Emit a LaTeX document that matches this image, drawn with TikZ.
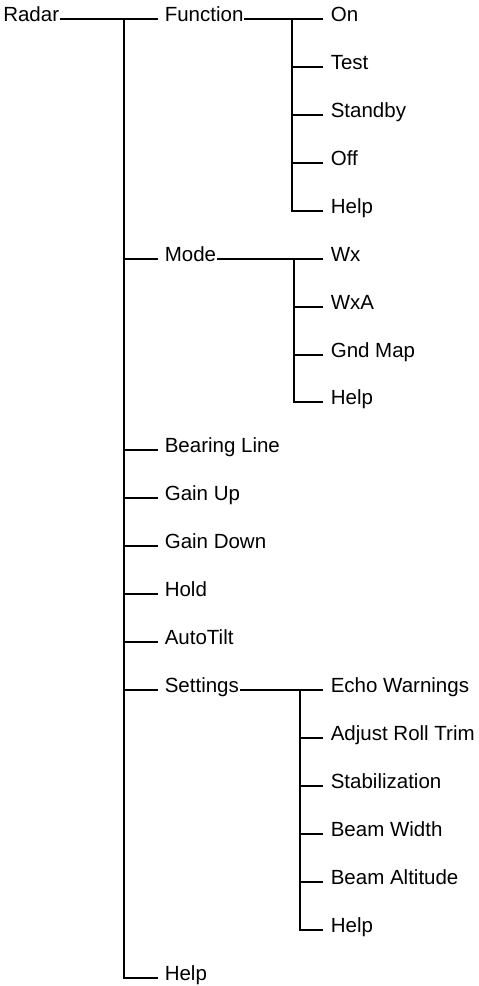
\documentclass[tikz,border=0pt]{standalone}
\usepackage{fontspec}
\setmainfont{Liberation Sans}
\begin{document}
\begin{tikzpicture}[x=1pt,y=-1pt,line width=1.6pt,
  lbl/.style={anchor=base west,inner sep=0pt,font=\fontsize{20.5}{24}\selectfont},
  stub/.style={shorten >=6pt},
  sstub/.style={shorten >=7pt}]
\useasboundingbox (0,0) rectangle (479,986);
% main trunk points
\coordinate (t1) at (124,19);
\coordinate (t6) at (124,259);
\coordinate (t10) at (124,450);
\coordinate (t11) at (124,498);
\coordinate (t12) at (124,546);
\coordinate (t13) at (124,594);
\coordinate (t14) at (124,642);
\coordinate (t15) at (124,690);
\coordinate (t21) at (124,978);
% function sub trunk
\coordinate (f1) at (292,19);
\coordinate (f2) at (292,67);
\coordinate (f3) at (292,115);
\coordinate (f4) at (292,163);
\coordinate (f5) at (292,211);
% mode sub trunk
\coordinate (m6) at (294,259);
\coordinate (m7) at (294,307);
\coordinate (m8) at (294,355);
\coordinate (m9) at (294,402);
% settings sub trunk
\coordinate (s15) at (300,690);
\coordinate (s16) at (300,738);
\coordinate (s17) at (300,786);
\coordinate (s18) at (300,834);
\coordinate (s19) at (300,882);
\coordinate (s20) at (300,930);
% labels
\node[lbl] (radar) at (2.5,21) {Radar};
\node[lbl] (fn) at (164,21) {Function};
\node[lbl] (on) at (330,21) {On};
\node[lbl] (test) at (330,69) {Test};
\node[lbl] (standby) at (330,117) {Standby};
\node[lbl] (off) at (330,165) {Off};
\node[lbl] (fhelp) at (330,213) {Help};
\node[lbl] (mode) at (164,261) {Mode};
\node[lbl] (wx) at (330,261) {Wx};
\node[lbl] (wxa) at (330,309) {WxA};
\node[lbl] (gnd) at (330,357) {Gnd Map};
\node[lbl] (mhelp) at (330,404) {Help};
\node[lbl] (bearing) at (164,452) {Bearing Line};
\node[lbl] (gainup) at (164,500) {Gain Up};
\node[lbl] (gaindown) at (164,548) {Gain Down};
\node[lbl] (hold) at (164,596) {Hold};
\node[lbl] (autotilt) at (164,644) {AutoTilt};
\node[lbl] (settings) at (164,692) {Settings};
\node[lbl] (echo) at (330,692) {Echo Warnings};
\node[lbl] (roll) at (330,740) {Adjust Roll Trim};
\node[lbl] (stab) at (330,788) {Stabilization};
\node[lbl] (bwidth) at (330,836) {Beam Width};
\node[lbl] (balt) at (330,884) {Beam Altitude};
\node[lbl] (shelp) at (330,932) {Help};
\node[lbl] (help) at (164,980) {Help};
% main trunk connectors
\draw[stub] (radar.east |- t1) -- (fn.west |- t1);
\draw[stub] (t1) |- (help.west |- t21);
\draw[stub] (t6) -- (mode.west |- t6);
\draw[stub] (t10) -- (bearing.west |- t10);
\draw[stub] (t11) -- (gainup.west |- t11);
\draw[stub] (t12) -- (gaindown.west |- t12);
\draw[stub] (t13) -- (hold.west |- t13);
\draw[stub] (t14) -- (autotilt.west |- t14);
\draw[stub] (t15) -- (settings.west |- t15);
% function
\draw[sstub] (fn.east |- f1) -- (on.west |- f1);
\draw[sstub] (f1) |- (fhelp.west |- f5);
\draw[sstub] (f2) -- (test.west |- f2);
\draw[sstub] (f3) -- (standby.west |- f3);
\draw[sstub] (f4) -- (off.west |- f4);
% mode
\draw[sstub] (mode.east |- m6) -- (wx.west |- m6);
\draw[sstub] (m6) |- (mhelp.west |- m9);
\draw[sstub] (m7) -- (wxa.west |- m7);
\draw[sstub] (m8) -- (gnd.west |- m8);
% settings
\draw[sstub] (settings.east |- s15) -- (echo.west |- s15);
\draw[sstub] (s15) |- (shelp.west |- s20);
\draw[sstub] (s16) -- (roll.west |- s16);
\draw[sstub] (s17) -- (stab.west |- s17);
\draw[sstub] (s18) -- (bwidth.west |- s18);
\draw[sstub] (s19) -- (balt.west |- s19);
\end{tikzpicture}
\end{document}
